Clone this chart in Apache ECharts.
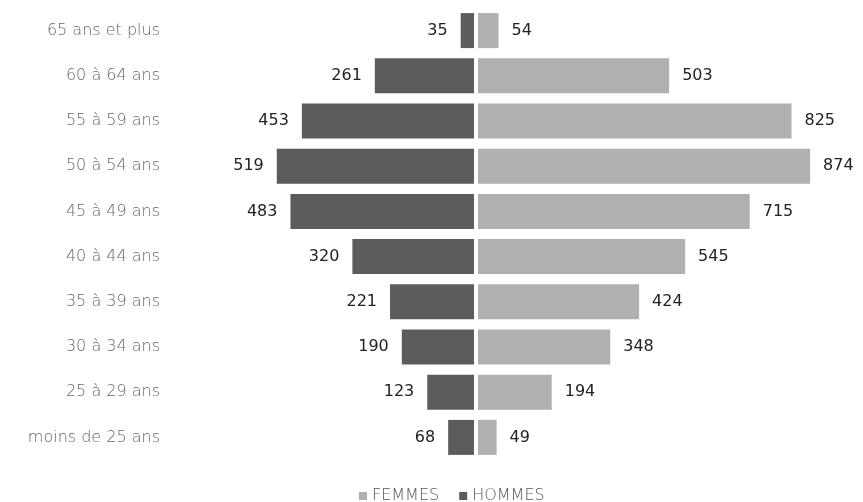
<!DOCTYPE html>
<html>
<head>
<meta charset="utf-8">
<script src="https://cdn.jsdelivr.net/npm/echarts@6/dist/echarts.min.js"></script>
<style>html,body{margin:0;padding:0;background:#fff}#c{width:863px;height:502px}</style>
</head>
<body>
<div id="c"></div>
<script>
const categories = ["65 ans et plus","60 à 64 ans","55 à 59 ans","50 à 54 ans","45 à 49 ans","40 à 44 ans","35 à 39 ans","30 à 34 ans","25 à 29 ans","moins de 25 ans"];
const hommes = [35,261,453,519,483,320,221,190,123,68];
const femmes = [54,503,825,874,715,545,424,348,194,49];
const seriesNames = ["FEMMES","HOMMES"];

const font = "'DejaVu Sans', sans-serif";
const chart = echarts.init(document.getElementById('c'));
chart.setOption({
  animation:false,
  textStyle:{fontFamily:font},
  legend:{
    data:seriesNames, left:354, top:483, itemWidth:8, itemHeight:8, itemGap:20,
    icon:'rect', textStyle:{color:'#555', fontSize:16, fontFamily:font, fontWeight:300}
  },
  grid:[
    {left:170, width:304, top:8, height:452},
    {left:478, width:342, top:8, height:452}
  ],
  xAxis:[
    {gridIndex:0, type:'value', min:0, max:800, inverse:true, show:false},
    {gridIndex:1, type:'value', min:0, max:900, show:false}
  ],
  yAxis:[
    {gridIndex:0, type:'category', data:categories, inverse:true,
     axisLine:{show:false}, axisTick:{show:false},
     axisLabel:{color:'#666', fontSize:16, margin:10, fontFamily:font, fontWeight:300}},
    {gridIndex:1, type:'category', data:categories, inverse:true, show:false}
  ],
  series:[
    {name:"HOMMES", type:'bar', xAxisIndex:0, yAxisIndex:0, data:hommes, barWidth:35,
     itemStyle:{color:'#5c5c5c'},
     label:{show:true, position:'left', distance:13, color:'#222', fontSize:16, fontFamily:font}},
    {name:"FEMMES", type:'bar', xAxisIndex:1, yAxisIndex:1, data:femmes, barWidth:35,
     itemStyle:{color:'#b0b0b0'},
     label:{show:true, position:'right', distance:13, color:'#222', fontSize:16, fontFamily:font}}
  ]
});
</script>
</body>
</html>
